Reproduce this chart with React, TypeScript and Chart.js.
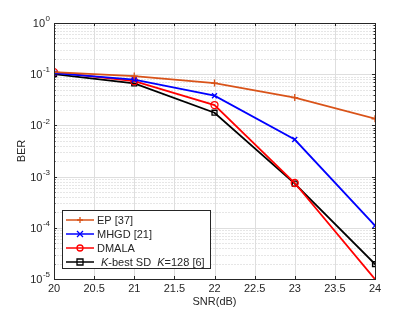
import React, { useEffect, useRef } from "react";
import { Chart, registerables } from "chart.js";

Chart.register(...registerables);

const snr = [20, 21, 22, 23, 24];
const ep = [0.11, 0.092, 0.067, 0.035, 0.0135];
const mhgd = [0.105, 0.078, 0.038, 0.0053, 1.1e-4];
const dmala = [0.11, 0.073, 0.025, 7.5e-4, 9.9e-6];
const kbest = [0.1, 0.066, 0.0177, 7.3e-4, 1.96e-5];
const xTicks = [20, 20.5, 21, 21.5, 22, 22.5, 23, 23.5, 24];
const yExponents = [0, -1, -2, -3, -4, -5];
const legendLabels = ["EP [37]", "MHGD [21]", "DMALA", "K-best SD  K=128 [6]"];

const FONT = "Liberation Sans, Arial, sans-serif";
const AXIS = "#262626";

const toPts = (ys: number[]) => ys.map((y, i) => ({ x: snr[i], y }));

const mattePlugin = {
  id: "matlabStyle",
  beforeDatasetsDraw(chart: any) {
    const { ctx, chartArea: a, scales } = chart;
    const xs = scales.x, ys = scales.y;
    ctx.save();
    // minor grid (dashed, light)
    ctx.strokeStyle = "#e6e6e6";
    ctx.lineWidth = 1;
    ctx.setLineDash([2, 1]);
    for (let e = -5; e < 0; e++) {
      for (let m = 2; m <= 9; m++) {
        const y = Math.round(ys.getPixelForValue(m * Math.pow(10, e))) + 0.5;
        ctx.beginPath();
        ctx.moveTo(a.left, y);
        ctx.lineTo(a.right, y);
        ctx.stroke();
      }
    }
    ctx.setLineDash([]);
    ctx.strokeStyle = "#dedede";
    for (const e of yExponents) {
      const y = Math.round(ys.getPixelForValue(Math.pow(10, e))) + 0.5;
      ctx.beginPath();
      ctx.moveTo(a.left, y);
      ctx.lineTo(a.right, y);
      ctx.stroke();
    }
    for (const t of xTicks) {
      const x = Math.round(xs.getPixelForValue(t)) + 0.5;
      ctx.beginPath();
      ctx.moveTo(x, a.top);
      ctx.lineTo(x, a.bottom);
      ctx.stroke();
    }
    ctx.restore();
  },
  afterDraw(chart: any) {
    const { ctx, chartArea: a, scales } = chart;
    const xs = scales.x, ys = scales.y;
    ctx.save();
    // box
    ctx.strokeStyle = AXIS;
    ctx.lineWidth = 1;
    ctx.strokeRect(Math.round(a.left) + 0.5, Math.round(a.top) + 0.5, Math.round(a.right - a.left), Math.round(a.bottom - a.top));
    // ticks
    ctx.beginPath();
    for (const t of xTicks) {
      const x = Math.round(xs.getPixelForValue(t)) + 0.5;
      ctx.moveTo(x, a.bottom); ctx.lineTo(x, a.bottom - 3);
      ctx.moveTo(x, a.top); ctx.lineTo(x, a.top + 3);
    }
    for (let e = -5; e <= 0; e++) {
      const y = Math.round(ys.getPixelForValue(Math.pow(10, e))) + 0.5;
      ctx.moveTo(a.left, y); ctx.lineTo(a.left + 3, y);
      ctx.moveTo(a.right, y); ctx.lineTo(a.right - 3, y);
      if (e < 0) {
        for (let m = 2; m <= 9; m++) {
          const yy = Math.round(ys.getPixelForValue(m * Math.pow(10, e))) + 0.5;
          ctx.moveTo(a.left, yy); ctx.lineTo(a.left + 1.5, yy);
          ctx.moveTo(a.right, yy); ctx.lineTo(a.right - 1.5, yy);
        }
      }
    }
    ctx.stroke();
    // y tick labels
    ctx.fillStyle = AXIS;
    ctx.textBaseline = "middle";
    for (const e of yExponents) {
      const y = ys.getPixelForValue(Math.pow(10, e));
      const exp = String(e);
      ctx.font = `8px ${FONT}`;
      const ew = ctx.measureText(exp).width;
      const rx = a.left - 4;
      ctx.textAlign = "right";
      ctx.fillText(exp, rx, y - 4);
      ctx.font = `11px ${FONT}`;
      ctx.fillText("10", rx - ew - 0.5, y + 1);
    }
    // axis titles
    ctx.font = `11px ${FONT}`;
    ctx.textAlign = "center";
    ctx.fillText("SNR(dB)", (a.left + a.right) / 2, 302);
    ctx.save();
    ctx.translate(22, (a.top + a.bottom) / 2);
    ctx.rotate(-Math.PI / 2);
    ctx.fillText("BER", 0, 0);
    ctx.restore();
    // legend
    const lx = 62.5, ly = 210.5, lw = 148, lh = 58;
    ctx.fillStyle = "#ffffff";
    ctx.fillRect(lx, ly, lw, lh);
    ctx.strokeStyle = AXIS;
    ctx.lineWidth = 1;
    ctx.strokeRect(lx, ly, lw, lh);
    const rowY = [220, 234, 248, 262];
    chart.data.datasets.forEach((ds: any, i: number) => {
      const y = rowY[i];
      ctx.strokeStyle = ds.borderColor;
      ctx.lineWidth = 1.5;
      ctx.beginPath();
      ctx.moveTo(66, y);
      ctx.lineTo(94, y);
      ctx.stroke();
      ctx.lineWidth = 1.3;
      const cx = 80, r = 3;
      ctx.beginPath();
      if (ds.pointStyle === "cross") {
        ctx.moveTo(cx - r, y); ctx.lineTo(cx + r, y); ctx.moveTo(cx, y - r); ctx.lineTo(cx, y + r);
      } else if (ds.pointStyle === "crossRot") {
        ctx.moveTo(cx - r, y - r); ctx.lineTo(cx + r, y + r); ctx.moveTo(cx - r, y + r); ctx.lineTo(cx + r, y - r);
      } else if (ds.pointStyle === "circle") {
        ctx.arc(cx, y, r, 0, Math.PI * 2);
      } else {
        ctx.rect(cx - r, y - r, 2 * r, 2 * r);
      }
      ctx.stroke();
      ctx.fillStyle = AXIS;
      ctx.textAlign = "left";
      ctx.textBaseline = "middle";
      if (i < 3) {
        ctx.font = `11px ${FONT}`;
        ctx.fillText(legendLabels[i], 97, y + 1);
      } else {
        let x = 101;
        const parts: [string, boolean][] = [["K", true], ["-best SD  ", false], ["K", true], ["=128 [6]", false]];
        for (const [t, it] of parts) {
          ctx.font = `${it ? "italic " : ""}11px ${FONT}`;
          ctx.fillText(t, x, y + 1);
          x += ctx.measureText(t).width;
        }
      }
    });
    ctx.restore();
  },
};

export default function App() {
  const ref = useRef<HTMLCanvasElement | null>(null);
  useEffect(() => {
    document.body.style.margin = "0";
    const mk = (label: string, data: number[], color: string, style: string, radii?: number[]) => ({
      label,
      data: toPts(data),
      borderColor: color,
      backgroundColor: "transparent",
      borderWidth: 1.8,
      pointStyle: style,
      pointRadius: radii || 3.5,
      pointBorderWidth: 1.3,
      pointBorderColor: color,
      pointBackgroundColor: "transparent",
      tension: 0,
      clip: 0,
    });
    const chart = new Chart(ref.current!, {
      type: "line",
      data: {
        datasets: [
          mk(legendLabels[0], ep, "#D95319", "cross"),
          mk(legendLabels[1], mhgd, "#0000FF", "crossRot"),
          mk(legendLabels[2], dmala, "#FF0000", "circle", [3.5, 3.5, 3.5, 3.5, 0]),
          mk(legendLabels[3], kbest, "#000000", "rect"),
        ] as any,
      },
      options: {
        animation: false,
        responsive: false,
        layout: { padding: { top: 23, right: 40, left: 0, bottom: 0 } },
        plugins: { legend: { display: false }, tooltip: { enabled: false } },
        scales: {
          x: {
            type: "linear",
            min: 20,
            max: 24,
            afterBuildTicks: (s: any) => { s.ticks = xTicks.map((v) => ({ value: v })); },
            afterFit: (s: any) => { s.height = 33; },
            grid: { display: false, drawTicks: false },
            border: { display: false },
            ticks: {
              color: AXIS,
              font: { family: FONT, size: 11 },
              padding: 3,
              maxRotation: 0,
              autoSkip: false,
              callback: (v: any) => String(v),
            },
          },
          y: {
            type: "logarithmic",
            min: 1e-5,
            max: 1,
            afterFit: (s: any) => { s.width = 54; },
            grid: { display: false, drawTicks: false },
            border: { display: false },
            ticks: { display: false },
          },
        },
      } as any,
      plugins: [mattePlugin],
    });
    return () => chart.destroy();
  }, []);
  return <canvas ref={ref} width={415} height={312} style={{ display: "block" }} />;
}
